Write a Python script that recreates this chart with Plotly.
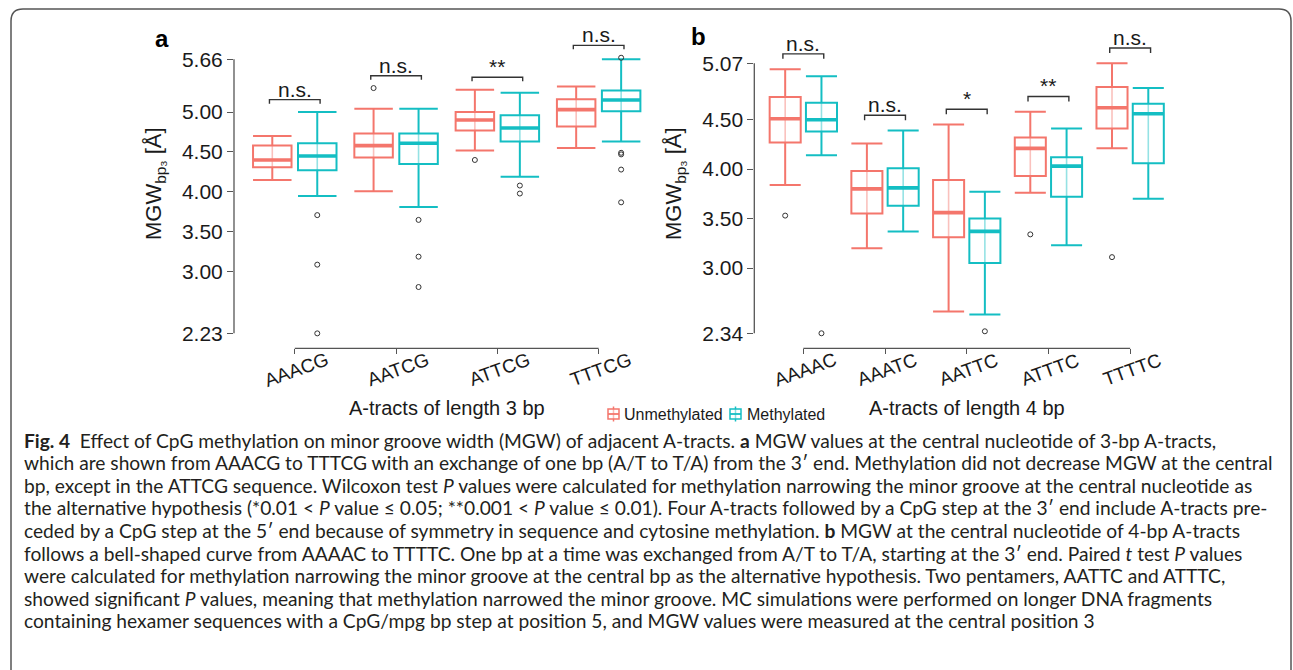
import plotly.graph_objects as go

W, H = 1293, 670

# ---------------- data: panel a (3-bp A-tracts) ----------------
cats_a = ["AAACG", "AATCG", "ATTCG", "TTTCG"]
unmeth_a_low = [4.15, 4.01, 4.52, 4.55]
unmeth_a_q1 = [4.31, 4.43, 4.77, 4.82]
unmeth_a_med = [4.40, 4.58, 4.90, 5.03]
unmeth_a_q3 = [4.58, 4.73, 5.00, 5.16]
unmeth_a_up = [4.70, 5.04, 5.28, 5.32]
unmeth_a_out = [[], [5.30], [4.40], []]
meth_a_low = [3.95, 3.81, 4.19, 4.63]
meth_a_q1 = [4.27, 4.35, 4.63, 5.01]
meth_a_med = [4.45, 4.61, 4.80, 5.15]
meth_a_q3 = [4.61, 4.73, 4.96, 5.27]
meth_a_up = [5.00, 5.04, 5.24, 5.66]
meth_a_out = [[3.71, 3.09, 2.23], [3.65, 3.19, 2.81], [4.08, 3.98],
              [5.68, 4.49, 4.47, 4.28, 3.87]]
sig_a = ["n.s.", "n.s.", "**", "n.s."]
yticks_a = [2.23, 3.00, 3.50, 4.00, 4.50, 5.00, 5.66]

# ---------------- data: panel b (4-bp A-tracts) ----------------
cats_b = ["AAAAC", "AAATC", "AATTC", "ATTTC", "TTTTC"]
unmeth_b_low = [3.84, 3.20, 2.56, 3.76, 4.21]
unmeth_b_q1 = [4.27, 3.55, 3.31, 3.93, 4.41]
unmeth_b_med = [4.51, 3.80, 3.56, 4.21, 4.62]
unmeth_b_q3 = [4.73, 3.98, 3.89, 4.32, 4.83]
unmeth_b_up = [5.01, 4.26, 4.45, 4.58, 5.07]
unmeth_b_out = [[3.53], [], [], [3.34], [3.11]]
meth_b_low = [4.14, 3.37, 2.53, 3.23, 3.70]
meth_b_q1 = [4.38, 3.63, 3.05, 3.72, 4.06]
meth_b_med = [4.50, 3.81, 3.37, 4.03, 4.56]
meth_b_q3 = [4.67, 4.01, 3.50, 4.12, 4.66]
meth_b_up = [4.94, 4.39, 3.77, 4.41, 4.82]
meth_b_out = [[2.34], [], [2.36], [], []]
sig_b = ["n.s.", "n.s.", "*", "**", "n.s."]
yticks_b = [2.34, 3.00, 3.50, 4.00, 4.50, 5.07]

series_names = ["Unmethylated", "Methylated"]

caption_lines = [
    "<b>Fig. 4</b>\u2002Effect of CpG methylation on minor groove width (MGW) of adjacent A-tracts. <b>a</b> MGW values at the central nucleotide of 3-bp A-tracts,",
    "which are shown from AAACG to TTTCG with an exchange of one bp (A/T to T/A) from the 3\u2032 end. Methylation did not decrease MGW at the central",
    "bp, except in the ATTCG sequence. Wilcoxon test <i>P</i> values were calculated for methylation narrowing the minor groove at the central nucleotide as",
    "the alternative hypothesis (*0.01 &lt; <i>P</i> value \u2264 0.05; **0.001 &lt; <i>P</i> value \u2264 0.01). Four A-tracts followed by a CpG step at the 3\u2032 end include A-tracts pre-",
    "ceded by a CpG step at the 5\u2032 end because of symmetry in sequence and cytosine methylation. <b>b</b> MGW at the central nucleotide of 4-bp A-tracts",
    "follows a bell-shaped curve from AAAAC to TTTTC. One bp at a time was exchanged from A/T to T/A, starting at the 3\u2032 end. Paired <i>t</i> test <i>P</i> values",
    "were calculated for methylation narrowing the minor groove at the central bp as the alternative hypothesis. Two pentamers, AATTC and ATTTC,",
    "showed significant <i>P</i> values, meaning that methylation narrowed the minor groove. MC simulations were performed on longer DNA fragments",
    "containing hexamer sequences with a CpG/mpg bp step at position 5, and MGW values were measured at the central position 3",
]

# ---------------- styling ----------------
RED = "#F4766C"
CYAN = "#14BEC3"
RED_L = "rgba(244,118,108,0.45)"
CYAN_L = "rgba(20,190,195,0.45)"
AX = "#555555"
TXT = "#1a1a1a"
FONT = "Liberation Sans, Arial, sans-serif"
CAP_FONT = "Lato, Open Sans, sans-serif"
OFFSET = 0.222
BW = 0.38


def px(x):
    return x / W


def py(y):
    return 1 - y / H


fig = go.Figure()
shapes = []
annotations = []


def ann(**kw):
    kw.setdefault("showarrow", False)
    kw.setdefault("xanchor", "center")
    kw.setdefault("yanchor", "middle")
    annotations.append(kw)


def add_panel(cats, stats, outs, sigs, yticks, xa, ya):
    n = len(cats)
    for s, (st, out, col, coll, name) in enumerate(zip(stats, outs, [RED, CYAN], [RED_L, CYAN_L], series_names)):
        low, q1, med, q3, up = st
        off = -OFFSET if s == 0 else OFFSET
        pos = [i + off for i in range(n)]
        # light whisker line through the box
        wx, wy = [], []
        for p, a, b in zip(pos, q1, q3):
            wx += [p, p, None]
            wy += [a, b, None]
        fig.add_trace(go.Scatter(x=wx, y=wy, mode="lines", line=dict(color=coll, width=1.6),
                                 xaxis=xa, yaxis=ya, showlegend=False, hoverinfo="skip"))
        fig.add_trace(go.Box(x=pos, q1=q1, median=med, q3=q3, lowerfence=low, upperfence=up,
                             width=BW, whiskerwidth=1, boxpoints=False,
                             line=dict(color=col, width=2), fillcolor="rgba(255,255,255,0)",
                             xaxis=xa, yaxis=ya, name=name, showlegend=False, hoverinfo="skip"))
        # thicker median
        mx, my = [], []
        for p, m in zip(pos, med):
            mx += [p - BW / 2, p + BW / 2, None]
            my += [m, m, None]
        fig.add_trace(go.Scatter(x=mx, y=my, mode="lines", line=dict(color=col, width=3.6),
                                 xaxis=xa, yaxis=ya, showlegend=False, hoverinfo="skip"))
        ox, oy = [], []
        for p, vals in zip(pos, out):
            for v in vals:
                ox.append(p)
                oy.append(v)
        fig.add_trace(go.Scatter(x=ox, y=oy, mode="markers",
                                 marker=dict(symbol="circle-open", size=5, color="#333333",
                                             line=dict(width=1)),
                                 xaxis=xa, yaxis=ya, showlegend=False, hoverinfo="skip"))
    # significance brackets
    for i in range(n):
        vals = [stats[0][4][i], stats[1][4][i]] + outs[0][i] + outs[1][i]
        top = max(vals) + 0.155
        leg = 0.05
        shapes.append(dict(type="path", xref=xa, yref=ya,
                           path=f"M {i-0.25},{top-leg} L {i-0.25},{top} L {i+0.25},{top} L {i+0.25},{top-leg}",
                           line=dict(color="#333333", width=1.4)))
        ann(x=i, y=top, xref=xa, yref=ya, text=sigs[i], yanchor="bottom", yshift=-3,
            font=dict(size=21, color=TXT, family=FONT))
    # axis lines (limited to first/last tick)
    shapes.append(dict(type="line", xref=f"{xa} domain", yref=ya, x0=0, x1=0,
                       y0=min(yticks), y1=max(yticks), line=dict(color=AX, width=1.3)))
    shapes.append(dict(type="line", xref=xa, yref=f"{ya} domain", x0=0, x1=n - 1,
                       y0=0, y1=0, line=dict(color=AX, width=1.3)))
    # rotated category labels
    for i, c in enumerate(cats):
        ann(x=i, y=py(369), xref=xa, yref="paper", text=c, textangle=-20, xshift=2,
            font=dict(size=19, color=TXT, family=FONT))


add_panel(cats_a,
          [(unmeth_a_low, unmeth_a_q1, unmeth_a_med, unmeth_a_q3, unmeth_a_up),
           (meth_a_low, meth_a_q1, meth_a_med, meth_a_q3, meth_a_up)],
          [unmeth_a_out, meth_a_out], sig_a, yticks_a, "x", "y")
add_panel(cats_b,
          [(unmeth_b_low, unmeth_b_q1, unmeth_b_med, unmeth_b_q3, unmeth_b_up),
           (meth_b_low, meth_b_q1, meth_b_med, meth_b_q3, meth_b_up)],
          [unmeth_b_out, meth_b_out], sig_b, yticks_b, "x2", "y2")

# axis titles and panel labels
ann(x=(len(cats_a) - 1) / 2, y=py(408), xref="x", yref="paper", text="A-tracts of length 3 bp",
    font=dict(size=20, color=TXT, family=FONT))
ann(x=(len(cats_b) - 1) / 2, y=py(408), xref="x2", yref="paper", text="A-tracts of length 4 bp",
    font=dict(size=20, color=TXT, family=FONT))
for xc in (155, 675):
    ann(x=px(xc), y=py(184), xref="paper", yref="paper", text="MGW<sub>bp\u2083</sub> [\u00c5]",
        textangle=-90, font=dict(size=22, color=TXT, family=FONT))
ann(x=px(162), y=py(38), xref="paper", yref="paper", text="<b>a</b>",
    font=dict(size=24, color="#000", family=FONT))
ann(x=px(698), y=py(36), xref="paper", yref="paper", text="<b>b</b>",
    font=dict(size=24, color="#000", family=FONT))

# legend (drawn manually, ggplot-like keys)
leg_items = [(series_names[0], RED, 613.5, 622), (series_names[1], CYAN, 735.5, 745)]
for name, col, cx, tx in leg_items:
    shapes.append(dict(type="line", xref="paper", yref="paper", x0=px(cx), x1=px(cx),
                       y0=py(406.5), y1=py(421.5), line=dict(color=col, width=1.5)))
    shapes.append(dict(type="rect", xref="paper", yref="paper", x0=px(cx - 5.5), x1=px(cx + 5.5),
                       y0=py(409), y1=py(419), line=dict(color=col, width=1.5),
                       fillcolor="rgba(255,255,255,0.5)"))
    shapes.append(dict(type="line", xref="paper", yref="paper", x0=px(cx - 5.5), x1=px(cx + 5.5),
                       y0=py(414), y1=py(414), line=dict(color=col, width=1.8)))
    ann(x=px(tx), y=py(414), xref="paper", yref="paper", text=name, xanchor="left",
        font=dict(size=16, color=TXT, family=FONT))

# caption
for k, line in enumerate(caption_lines):
    ann(x=px(22), y=py(440 + 22.6 * k), xref="paper", yref="paper", text=line, xanchor="left",
        font=dict(size=19.2, color="#231f20", family=CAP_FONT))

# rounded frame
r = 12
frame = (f"M {px(11)},{py(700)} L {px(11)},{py(9 + r)} Q {px(11)},{py(9)} {px(11 + r)},{py(9)} "
         f"L {px(1291 - r)},{py(9)} Q {px(1291)},{py(9)} {px(1291)},{py(9 + r)} L {px(1291)},{py(700)}")
shapes.append(dict(type="path", xref="paper", yref="paper", path=frame,
                   line=dict(color="#555555", width=1.5)))

yd = [py(348.3), py(20)]
common_x = dict(showgrid=False, zeroline=False, showline=False, ticks="outside", ticklen=5,
                tickcolor=AX, tickwidth=1.3, showticklabels=False)
common_y = dict(showgrid=False, zeroline=False, showline=False, ticks="outside", ticklen=6,
                tickcolor=AX, tickwidth=1.3, tickfont=dict(size=21, color=TXT, family=FONT))

fig.update_layout(
    width=W, height=H, autosize=False,
    margin=dict(l=0, r=0, t=0, b=0),
    paper_bgcolor="white", plot_bgcolor="white",
    showlegend=False,
    xaxis=dict(domain=[px(234), px(649.3)], range=[-0.6, 3.5], tickvals=list(range(len(cats_a))),
               anchor="y", **common_x),
    yaxis=dict(domain=yd, range=[2.043, 6.152], tickvals=yticks_a,
               ticktext=[f"{v:.2f}" for v in yticks_a], anchor="x", **common_y),
    xaxis2=dict(domain=[px(754.3), px(1171)], range=[-0.6, 4.5], tickvals=list(range(len(cats_b))),
                anchor="y2", **common_x),
    yaxis2=dict(domain=yd, range=[2.188, 5.508], tickvals=yticks_b,
                ticktext=[f"{v:.2f}" for v in yticks_b], anchor="x2", **common_y),
    shapes=shapes,
    annotations=annotations,
)

fig.write_html("out.html")
